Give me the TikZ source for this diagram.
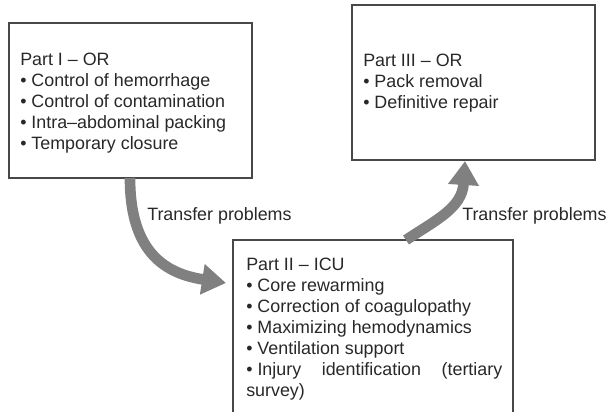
\documentclass[tikz,border=0pt]{standalone}
\usepackage{fontspec}
\setmainfont{Liberation Sans}
\usepackage{tikz}
\usetikzlibrary{arrows.meta, fit}
\definecolor{dcFrame}{RGB}{ 72, 72, 72}
\definecolor{dcArrow}{RGB}{128,128,128}
\definecolor{dcText}{RGB}{ 40, 40, 40}

\begin{document}
\begin{tikzpicture}[x=0.75pt, y=-0.75pt,
    frame/.style={draw=dcFrame, line width=1.3pt, inner sep=0pt},
    steps/.style={anchor=north west, inner sep=0pt, align=left, text=dcText,
                  font=\fontsize{13.4}{15.75}\selectfont},
    note/.style={anchor=west, inner sep=0pt, text=dcText,
                 font=\fontsize{13.4}{15.75}\selectfont},
    flow/.style={dcArrow, line width=8pt, -{Triangle[length=18pt, width=22pt]}}
  ]
  \useasboundingbox (0,0) rectangle (606,411);

  % the three stages
  \node[frame, fit={(9,23) (252,178)}] (frameI) {};
  \node[frame, fit={(233,240) (513,414)}] (frameII) {};
  \node[frame, fit={(352,5) (595,160)}] (frameIII) {};

  \node[steps] (textI) at (20,53) {Part I – OR\\
    • Control of hemorrhage\\
    • Control of contamination\\
    • Intra–abdominal packing\\
    • Temporary closure};
  \node[steps] (textII) at (246,258) {Part II – ICU\\
    • Core rewarming\\
    • Correction of coagulopathy\\
    • Maximizing hemodynamics\\
    • Ventilation support\\
    \makebox[192pt][s]{•\kern0.28em Injury identification (tertiary}\\
    survey)};
  \node[steps] (textIII) at (363,54) {Part III – OR\\
    • Pack removal\\
    • Definitive repair};

  % transfers between stages
  \coordinate (outI) at (130,178);
  \coordinate (inII) at (226,283);
  \coordinate (outII) at (406,240);
  \coordinate (inIII) at (465,161);
  \draw[flow] (outI) .. controls (130,255) and (168,274) .. (inII);
  \draw[flow] (outII) .. controls (436,220) and (462,208) .. (inIII);

  \node[note] (noteA) at (147,216) {Transfer problems};
  \node[note] (noteB) at (462,216) {Transfer problems};
\end{tikzpicture}
\end{document}
